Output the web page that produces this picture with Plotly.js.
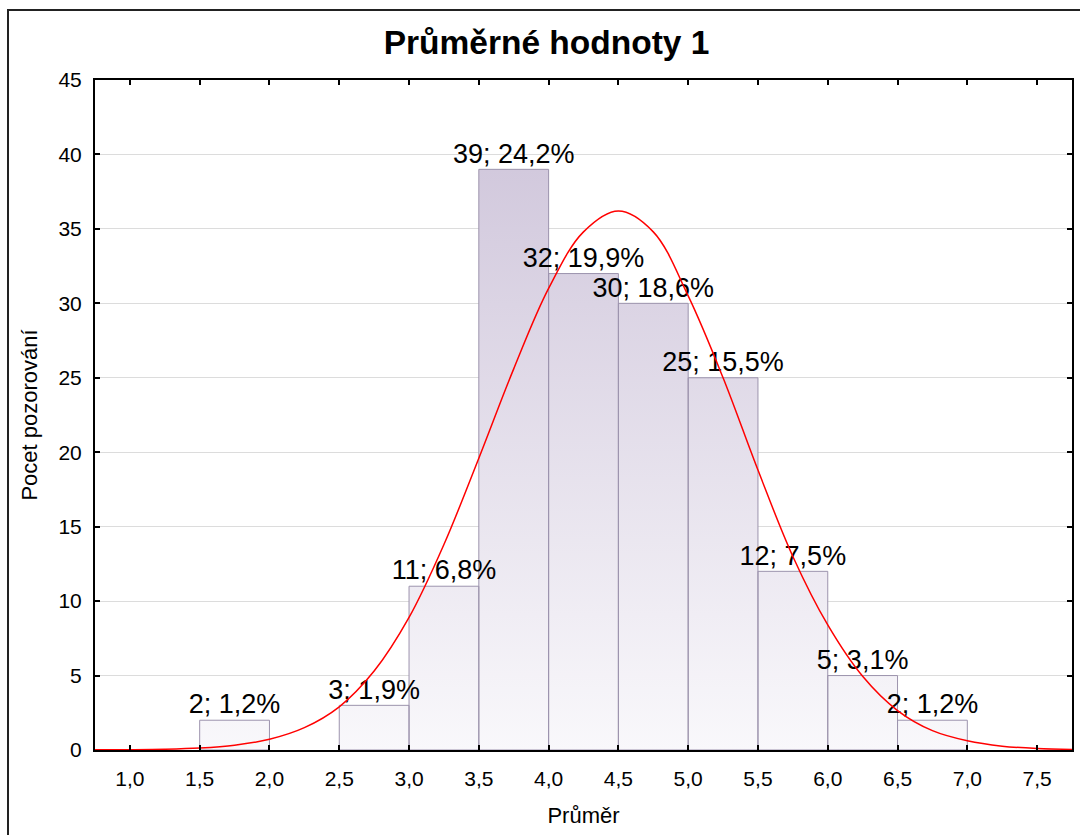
<!DOCTYPE html>
<html>
<head>
<meta charset="utf-8">
<script src="https://cdn.plot.ly/plotly-3.0.1.min.js"></script>
<style>
html,body{margin:0;padding:0;background:#fff;}
#chart{width:1080px;height:835px;}
</style>
</head>
<body>
<div id="chart"></div>
<script>
// ---- data ----
const binLower = [1.5, 2.0, 2.5, 3.0, 3.5, 4.0, 4.5, 5.0, 5.5, 6.0, 6.5];
const binWidth = 0.5;
const counts   = [2, 0, 3, 11, 39, 32, 30, 25, 12, 5, 2];

// fitted normal curve
const curveX = [0.75, 1.0, 1.25, 1.5, 1.75, 2.0, 2.25, 2.5, 2.75, 3.0, 3.25, 3.5, 3.75, 4.0, 4.25, 4.5, 4.75, 5.0, 5.25, 5.5, 5.75, 6.0, 6.25, 6.5, 6.75, 7.0, 7.25, 7.5, 7.75];
const curveY = [0.01, 0.02, 0.05, 0.13, 0.32, 0.72, 1.5, 2.9, 5.3, 8.9, 13.8, 19.6, 25.6, 31.0, 34.8, 36.2, 34.8, 30.5, 25.0, 18.8, 13.0, 8.4, 4.95, 2.65, 1.3, 0.62, 0.26, 0.1, 0.04];

const xTickVals = [1.0, 1.5, 2.0, 2.5, 3.0, 3.5, 4.0, 4.5, 5.0, 5.5, 6.0, 6.5, 7.0, 7.5];
const xTickText = ["1,0", "1,5", "2,0", "2,5", "3,0", "3,5", "4,0", "4,5", "5,0", "5,5", "6,0", "6,5", "7,0", "7,5"];

const titleText = "Průměrné hodnoty 1";
const xTitle = "Průměr";
const yTitle = "Pocet pozorování";

// ---- build traces ----
const total = counts.reduce((a, b) => a + b, 0);
const rx = [], ry = [], lx = [], ly = [], lt = [];
binLower.forEach((a, i) => {
  const c = counts[i];
  if (c <= 0) return;
  const b = a + binWidth;
  rx.push(a, a, b, b, a, null);
  ry.push(0, c, c, 0, 0, null);
  lx.push(a + binWidth / 2);
  ly.push(c);
  lt.push(c + "; " + (c / total * 100).toFixed(1).replace(".", ",") + "%");
});

const FONT = "Liberation Sans, Arial, sans-serif";

const barsTrace = {
  type: "scatter", mode: "lines",
  x: rx, y: ry,
  fill: "toself",
  fillgradient: {
    type: "vertical",
    colorscale: [[0, "#f9f8fb"], [1, "#d2c9dd"]],
    start: 0, stop: 39
  },
  line: {color: "#9c93ad", width: 1},
  connectgaps: false,
  hoverinfo: "skip", showlegend: false
};

const labelTrace = {
  type: "scatter", mode: "text",
  x: lx, y: ly, text: lt,
  textposition: "top center",
  textfont: {family: FONT, size: 27, color: "#000"},
  cliponaxis: false,
  hoverinfo: "skip", showlegend: false
};

const curveTrace = {
  type: "scatter", mode: "lines",
  x: curveX, y: curveY,
  line: {color: "#ff0000", width: 1.5, shape: "spline", smoothing: 1},
  hoverinfo: "skip", showlegend: false
};

// frame (outer border of the original graph window)
const plotW = 1080 - 95 - 8, plotH = 835 - 80 - 85;
const px2x = p => (p - 95) / plotW;
const py2y = p => (750 - p) / plotH;

const layout = {
  width: 1080, height: 835,
  margin: {l: 95, r: 8, t: 80, b: 85, pad: 0},
  paper_bgcolor: "#ffffff", plot_bgcolor: "#ffffff",
  font: {family: FONT, size: 21, color: "#000"},
  separators: ", ",
  title: {
    text: "<b>" + titleText + "</b>",
    font: {family: FONT, size: 33.5, color: "#000"},
    x: 546.5 / 1080, xref: "container", xanchor: "center",
    y: 1 - 42 / 835, yref: "container", yanchor: "middle"
  },
  xaxis: {
    range: [0.75, 7.75],
    tickmode: "array", tickvals: xTickVals, ticktext: xTickText,
    ticks: "inside", ticklen: 5, tickwidth: 2, tickcolor: "#000",
    showline: true, linecolor: "#000", linewidth: 2, mirror: "ticks",
    showgrid: false, zeroline: false,
    tickfont: {family: FONT, size: 21, color: "#000"},
    ticklabelstandoff: 9,
    title: {text: xTitle, font: {family: FONT, size: 22, color: "#000"}, standoff: 18}
  },
  yaxis: {
    range: [0, 45], dtick: 5, tick0: 0,
    ticks: "inside", ticklen: 5, tickwidth: 2, tickcolor: "#000",
    showline: true, linecolor: "#000", linewidth: 2, mirror: "ticks",
    showgrid: true, gridcolor: "#dcdcdc", gridwidth: 1,
    zeroline: false,
    tickfont: {family: FONT, size: 21, color: "#000"},
    ticklabelstandoff: 7,
    title: {text: yTitle, font: {family: FONT, size: 22, color: "#000"}, standoff: 15}
  },
  shapes: [{
    type: "rect", xref: "paper", yref: "paper", layer: "below",
    x0: px2x(8), x1: px2x(1100), y0: py2y(850), y1: py2y(10),
    line: {color: "#222", width: 2}, fillcolor: "rgba(0,0,0,0)"
  }],
  showlegend: false
};

Plotly.newPlot("chart", [barsTrace, labelTrace, curveTrace], layout, {staticPlot: true, displayModeBar: false});
</script>
</body>
</html>
